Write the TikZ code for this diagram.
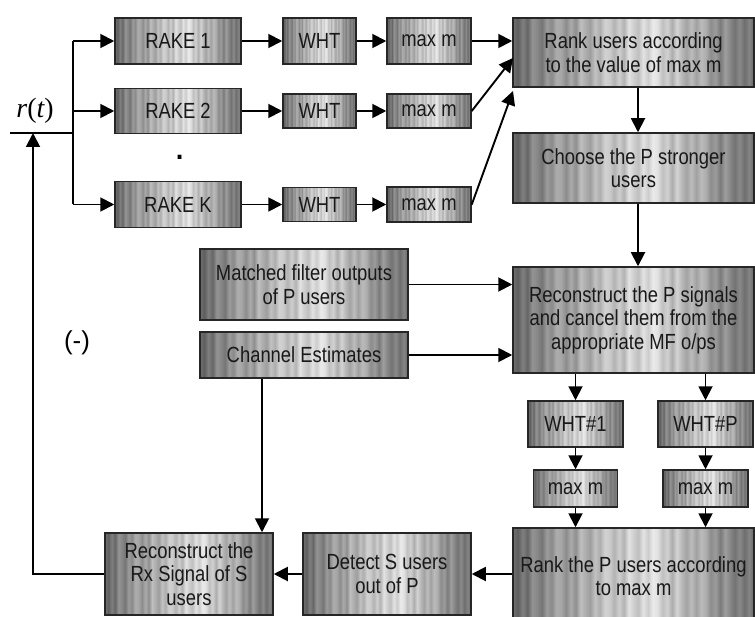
\documentclass[tikz,border=0pt]{standalone}
\usepackage{fontspec}
\setmainfont{Liberation Sans}[FakeStretch=0.84]
\newfontfamily\plainsans{Liberation Sans}
\newfontfamily\serifit{Liberation Serif}
\usetikzlibrary{arrows.meta,calc}
\pgfdeclarehorizontalshading{metal}{100bp}{color(0bp)=(black!56); color(25bp)=(black!56); color(26bp)=(black!63); color(27bp)=(black!50); color(28bp)=(black!60); color(29bp)=(black!42); color(30bp)=(black!47); color(31bp)=(black!54); color(32bp)=(black!39); color(33bp)=(black!46); color(34bp)=(black!32); color(35bp)=(black!35); color(36bp)=(black!45); color(37bp)=(black!33); color(38bp)=(black!44); color(39bp)=(black!25); color(40bp)=(black!32); color(41bp)=(black!38); color(42bp)=(black!24); color(43bp)=(black!32); color(44bp)=(black!18); color(45bp)=(black!20); color(46bp)=(black!30); color(47bp)=(black!19); color(48bp)=(black!30); color(49bp)=(black!11); color(50bp)=(black!19); color(51bp)=(black!25); color(52bp)=(black!11); color(53bp)=(black!20); color(54bp)=(black!8); color(55bp)=(black!12); color(56bp)=(black!25); color(57bp)=(black!18); color(58bp)=(black!32); color(59bp)=(black!17); color(60bp)=(black!28); color(61bp)=(black!36); color(62bp)=(black!26); color(63bp)=(black!37); color(64bp)=(black!27); color(65bp)=(black!32); color(66bp)=(black!45); color(67bp)=(black!39); color(68bp)=(black!52); color(69bp)=(black!38); color(70bp)=(black!47); color(71bp)=(black!55); color(72bp)=(black!46); color(73bp)=(black!57); color(74bp)=(black!48); color(75bp)=(black!60); color(100bp)=(black!60)}
\tikzset{
  box/.style={draw=black!85, line width=1.5bp, shade, shading=metal, inner sep=0pt,
    align=center, text=black!90, font=\fontsize{22}{23.5}\selectfont},
  arr/.style={-{Triangle[length=14bp,width=14bp]}, line width=1.9bp},
  ln/.style={line width=1.9bp}
}
\begin{document}
\begin{tikzpicture}[x=1bp,y=-1bp]
\useasboundingbox (0,0) rectangle (755,617);
\clip (0,0) rectangle (755,617);
% top row
\node[box, minimum width=126bp, minimum height=46bp] (rake1) at (178,41) {RAKE 1};
\node[box, minimum width=126bp, minimum height=45bp] (rake2) at (178,111) {RAKE 2};
\node[box, minimum width=126bp, minimum height=46bp] (rakek) at (178,204.5) {RAKE K};
\node[box, minimum width=73bp, minimum height=46bp] (wht1) at (319.5,41) {WHT};
\node[box, minimum width=73bp, minimum height=34bp] (wht2) at (319.5,111) {WHT};
\node[box, minimum width=73bp, minimum height=34bp] (whtk) at (319.5,204.5) {WHT};
\node[box, minimum width=84bp, minimum height=46bp] (mm1) at (429,41) {max m};
\node[box, minimum width=84bp, minimum height=34bp] (mm2) at (429,111) {max m};
\node[box, minimum width=84bp, minimum height=35bp] (mm3) at (429,204.5) {max m};
\node[box, minimum width=241bp, minimum height=69bp] (rank) at (633.5,52.5) {Rank users according\\to the value of max m};
\node[box, minimum width=241bp, minimum height=70bp] (choose) at (633.5,168) {Choose the P stronger\\users};
% middle
\node[box, minimum width=208bp, minimum height=71bp] (mf) at (304,284.5) {Matched filter outputs\\of P users};
\node[box, minimum width=208bp, minimum height=46bp] (ce) at (304,355) {Channel Estimates};
\node[box, minimum width=241bp, minimum height=106bp] (recp) at (633.5,320) {Reconstruct the P signals\\and cancel them from the\\appropriate MF o/ps};
\node[box, minimum width=95bp, minimum height=46bp] (whtp1) at (575.5,424) {WHT\#1};
\node[box, minimum width=95bp, minimum height=46bp] (whtpp) at (705.5,424) {WHT\#P};
\node[box, minimum width=84bp, minimum height=37bp] (mmp1) at (575.5,488.5) {max m};
\node[box, minimum width=85bp, minimum height=37bp] (mmpp) at (705.5,488.5) {max m};
% bottom
\node[box, minimum width=241bp, minimum height=96bp] (rankp) at (633.5,576) {Rank the P users according\\to max m};
\node[box, minimum width=168bp, minimum height=82bp] (detect) at (387,574) {Detect S users\\out of P};
\node[box, minimum width=168bp, minimum height=82bp] (recrx) at (189,574) {Reconstruct the\\Rx Signal of S\\users};
% labels
\node[font=\serifit\fontsize{28}{30}\selectfont, inner sep=0pt] (rt) at (35,111) {\itshape r\upshape(\itshape t\upshape)};
\node[font=\plainsans\fontsize{26}{28}\selectfont, inner sep=0pt] (minus) at (77,343) {(-)};
\node[font=\plainsans\fontsize{40}{40}\selectfont, inner sep=0pt, anchor=base] (dot) at (180,160) {.};
% input fan-out
\coordinate (in0) at (10,133);
\coordinate (split) at (73,133);
\coordinate (top) at (73,41);
\coordinate (bot) at (73,204.5);
\coordinate (fbt) at (33,133);
\draw[ln] (in0) -- (split);
\draw[ln] (top) -- (bot);
\draw[arr] (top) -- (rake1.west);
\draw[arr] (split |- rake2.west) -- (rake2.west);
\draw[arr] (bot) -- (rakek.west);
\draw[arr] (rake1) -- (wht1);
\draw[arr] (rake2) -- (wht2);
\draw[arr] (rakek) -- (whtk);
\draw[arr] (wht1) -- (mm1);
\draw[arr] (wht2) -- (mm2);
\draw[arr] (whtk) -- (mm3);
\coordinate (r2) at (513,58);
\coordinate (r3) at (513,91);
\draw[arr] (mm1.east) -- (mm1.east -| rank.west);
\draw[arr] (mm2.east) -- (r2);
\draw[arr] (mm3.east) -- (r3);
\draw[arr] (rank.south -| 638,0) -- (choose.north -| 638,0);
\draw[arr] (choose.south -| 638,0) -- (recp.north -| 638,0);
\draw[arr] (mf.east) -- (mf.east -| recp.west);
\draw[arr] (ce.east) -- (ce.east -| recp.west);
\draw[arr] (whtp1.north |- recp.south) -- (whtp1.north);
\draw[arr] (whtpp.north |- recp.south) -- (whtpp.north);
\draw[arr] (whtp1) -- (mmp1);
\draw[arr] (whtpp) -- (mmpp);
\draw[arr] (mmp1.south) -- (mmp1.south |- rankp.north);
\draw[arr] (mmpp.south) -- (mmpp.south |- rankp.north);
\draw[arr] (rankp.west |- detect.east) -- (detect.east);
\draw[arr] (detect) -- (recrx);
\draw[arr] (ce.south -| 262,0) -- (recrx.north -| 262,0);
\draw[arr] (recrx.west) -| (fbt);
\end{tikzpicture}
\end{document}
